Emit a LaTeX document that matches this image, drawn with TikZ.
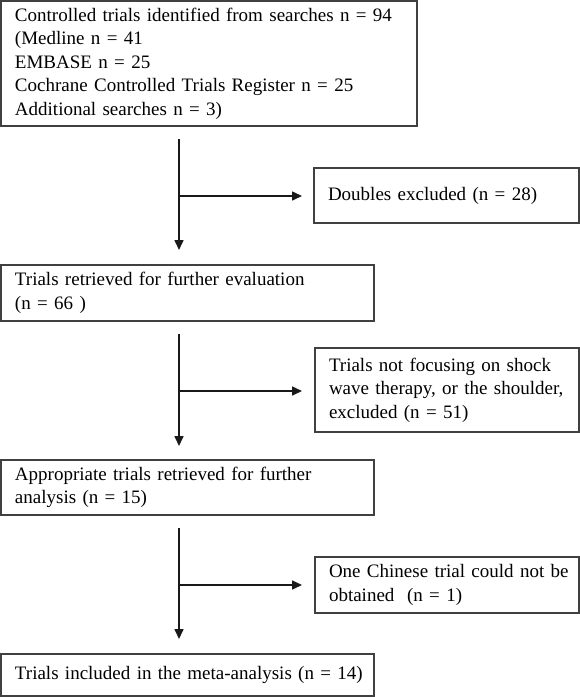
\documentclass[tikz,border=0pt]{standalone}
\usepackage{fontspec}
\setmainfont{Liberation Serif}
\usetikzlibrary{arrows.meta}
\tikzset{
  box/.style={draw=black!75, line width=1.4pt, anchor=north west, align=left,
    inner xsep=14pt, inner ysep=0pt, outer sep=0pt,
    font=\fontsize{19}{23.5}\selectfont},
  arr/.style={draw=black!90, line width=1.6pt, -{Triangle[length=10pt,width=9pt]}}
}
\begin{document}
\begin{tikzpicture}[x=1pt,y=-1pt]
\useasboundingbox (0,0) rectangle (580,697);
% boxes
\node[box, minimum width=416pt, minimum height=125pt, text width=388pt] (b1) at (1,1)
  {Controlled trials identified from searches n = 94\\(Medline n = 41\\EMBASE n = 25\\Cochrane Controlled Trials Register n = 25\\Additional searches n = 3)};
\node[box, minimum width=265pt, minimum height=55pt, text width=237pt] (bd) at (314,168)
  {Doubles excluded (n = 28)};
\node[box, minimum width=373pt, minimum height=56pt, text width=345pt] (b2) at (1,265)
  {Trials retrieved for further evaluation\\(n = 66 )};
\node[box, minimum width=264pt, minimum height=84pt, text width=236pt] (b3) at (315,348)
  {\mbox{Trials not focusing on shock}\\\mbox{wave therapy, or the shoulder,}\\excluded (n = 51)};
\node[box, minimum width=373pt, minimum height=55pt, text width=345pt] (b4) at (1,460)
  {Appropriate trials retrieved for further\\analysis (n = 15)};
\node[box, minimum width=264pt, minimum height=56pt, text width=236pt] (b5) at (315,557)
  {\mbox{One Chinese trial could not be}\\obtained \ (n = 1)};
\node[box, minimum width=373pt, minimum height=42pt, text width=345pt] (b6) at (1,654)
  {\mbox{Trials included in the meta-analysis (n = 14)}};
% connector points
\coordinate (s1) at (179,139);
\coordinate (j1) at (179,196);
\coordinate (s2) at (179,334);
\coordinate (j2) at (179,391);
\coordinate (s3) at (179,528);
\coordinate (j3) at (179,585);
% connectors
\draw[arr, shorten >=15pt] (s1) -- (s1 |- b2.north);
\draw[arr, shorten >=12pt] (j1) -- (j1 -| bd.west);
\draw[arr, shorten >=14pt] (s2) -- (s2 |- b4.north);
\draw[arr, shorten >=13pt] (j2) -- (j2 -| b3.west);
\draw[arr, shorten >=15pt] (s3) -- (s3 |- b6.north);
\draw[arr, shorten >=13pt] (j3) -- (j3 -| b5.west);
\end{tikzpicture}
\end{document}
